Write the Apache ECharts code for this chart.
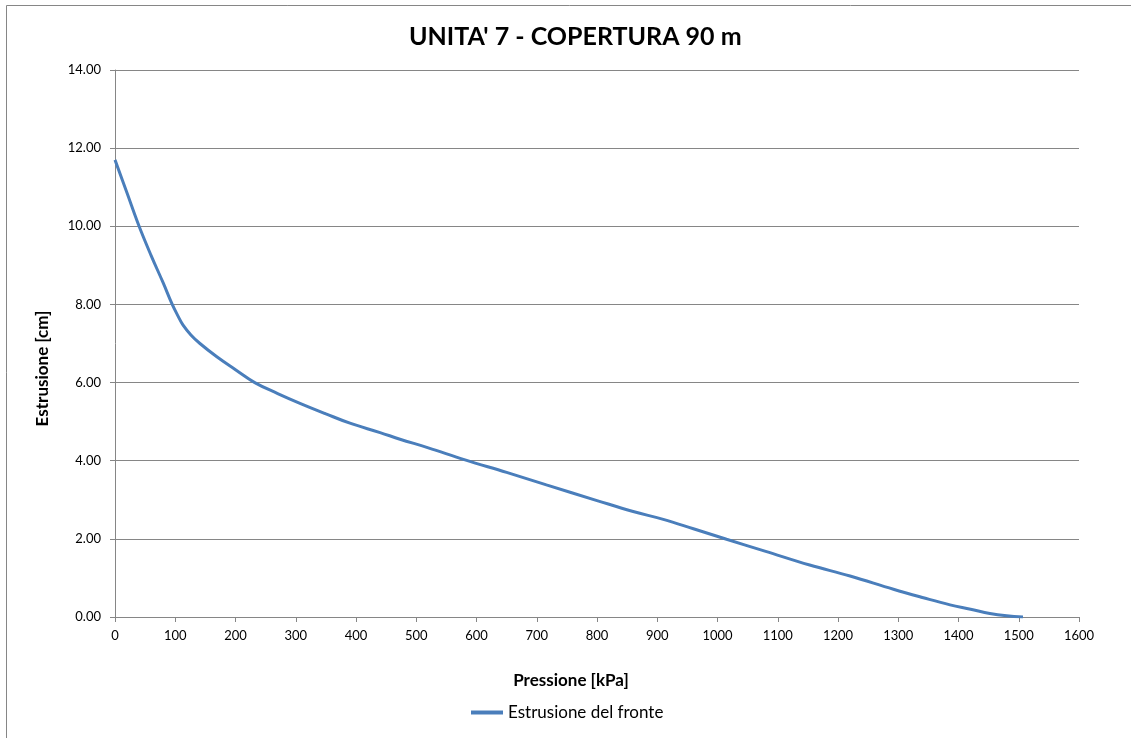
<!DOCTYPE html>
<html>
<head>
<meta charset="utf-8">
<script src="https://cdn.jsdelivr.net/npm/echarts@6/dist/echarts.min.js"></script>
<style>
  html, body { margin: 0; padding: 0; background: #fff; }
  #chart { width: 1131px; height: 738px; }
</style>
</head>
<body>
<div id="chart"></div>
<script>
// Pressione [kPa] e Estrusione [cm]
const pressione = [0, 20, 40, 60, 80, 95, 104, 113, 126, 141, 169, 200, 232, 270, 307, 350, 390, 440, 473, 520, 581, 650, 716, 800, 860, 910, 960, 1015, 1080, 1153, 1220, 1292, 1340, 1386, 1420, 1452, 1480, 1507];
const estrusione = [11.70, 10.85, 10.00, 9.25, 8.55, 8.00, 7.72, 7.47, 7.22, 7.00, 6.66, 6.33, 6.00, 5.72, 5.47, 5.20, 4.96, 4.72, 4.55, 4.33, 4.02, 3.70, 3.38, 2.98, 2.70, 2.50, 2.26, 1.99, 1.68, 1.33, 1.05, 0.71, 0.50, 0.31, 0.20, 0.09, 0.03, 0.00];

const titolo = "UNITA' 7 - COPERTURA 90 m";
const nomeSerie = 'Estrusione del fronte';

const container = document.getElementById('chart');
const chart = echarts.init(container);

const fontBase = 'Lato, "Open Sans", sans-serif';
const grigio = '#868686';

const option = {
  backgroundColor: '#ffffff',
  animation: false,
  title: {
    text: titolo,
    left: 404,
    top: 19,
    textStyle: { fontFamily: fontBase, fontWeight: 'bold', fontSize: 25, color: '#000' }
  },
  // bordo dell'area del grafico (solo sinistra e alto visibili)
  graphic: [{
    type: 'rect',
    shape: { x: 6.5, y: 5.5, width: 1200, height: 800 },
    style: { fill: 'none', stroke: grigio, lineWidth: 1 },
    silent: true
  }],
  legend: {
    bottom: 12,
    left: 466,
    itemWidth: 32,
    itemHeight: 4,
    itemGap: 4,
    icon: 'rect',
    textStyle: { fontFamily: fontBase, fontSize: 17, color: '#000' },
    data: [nomeSerie]
  },
  grid: { left: 115, right: 52, top: 70, bottom: 121 },
  xAxis: {
    type: 'value',
    min: 0, max: 1600, interval: 100,
    name: 'Pressione [kPa]',
    nameLocation: 'middle',
    nameGap: 55,
    nameTextStyle: { fontFamily: fontBase, fontWeight: 'bold', fontSize: 17, color: '#000', padding: [0, 52, 0, 0] },
    axisLine: { show: true, lineStyle: { color: grigio } },
    axisTick: { show: true, length: 5, lineStyle: { color: grigio } },
    axisLabel: { fontFamily: fontBase, fontSize: 13, color: '#000', margin: 12, formatter: v => String(v) },
    splitLine: { show: false }
  },
  yAxis: {
    type: 'value',
    min: 0, max: 14, interval: 2,
    name: 'Estrusione [cm]',
    nameLocation: 'middle',
    nameGap: 64,
    nameTextStyle: { fontFamily: fontBase, fontWeight: 'bold', fontSize: 17, color: '#000', padding: [0, 50, 0, 0] },
    axisLine: { show: true, lineStyle: { color: grigio } },
    axisTick: { show: true, length: 5, lineStyle: { color: grigio } },
    axisLabel: {
      fontFamily: fontBase, fontSize: 13, color: '#000', margin: 14,
      formatter: v => v.toFixed(2)
    },
    splitLine: { show: true, lineStyle: { color: grigio, width: 1 } }
  },
  series: [{
    name: nomeSerie,
    type: 'line',
    smooth: 0.4,
    showSymbol: false,
    lineStyle: { color: '#4a7ebb', width: 3 },
    itemStyle: { color: '#4a7ebb' },
    data: pressione.map((p, i) => [p, estrusione[i]])
  }]
};

chart.setOption(option);
window.onresize = function () { chart.resize(); };
</script>
</body>
</html>
